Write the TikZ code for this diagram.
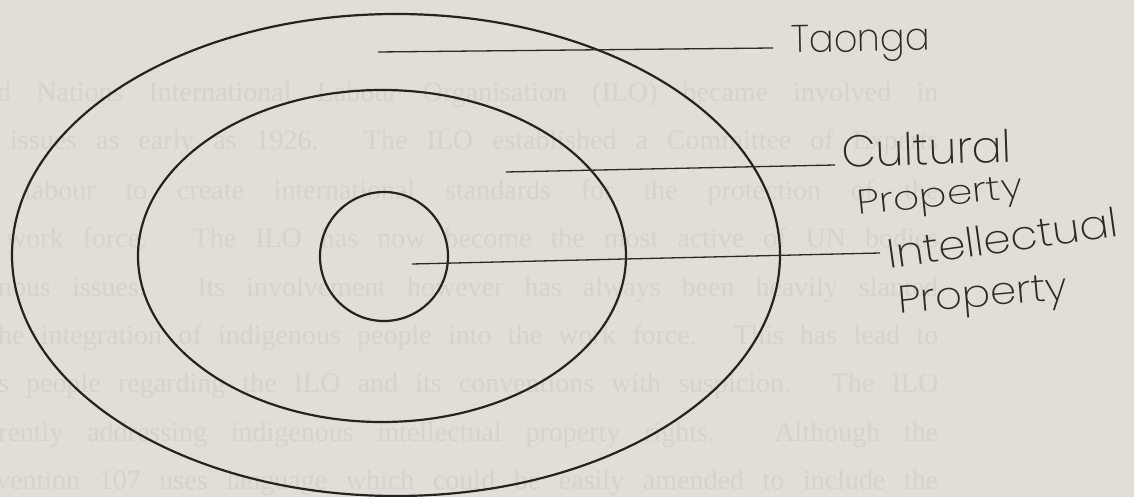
\documentclass[tikz,border=0pt]{standalone}
\usepackage{fontspec}
\setmainfont{Liberation Serif}
\newfontfamily\handfont{Poppins ExtraLight}
\usetikzlibrary{shapes.geometric}
\definecolor{paper}{RGB}{225,222,214}
\definecolor{ghost}{RGB}{214,211,203}
\definecolor{ink}{RGB}{40,34,30}
\definecolor{pencil}{RGB}{45,41,38}
\tikzset{
  ring/.style={ellipse, draw=ink, line width=2.2pt, inner sep=0pt, outer sep=0pt},
  lead/.style={draw=pencil, line width=1.3pt},
  hand/.style={anchor=base west, inner sep=0pt, text=pencil, font=\handfont},
  ghosttext/.style={anchor=base west, inner sep=0pt, text=ghost, font=\fontsize{28}{28}\selectfont}
}
\begin{document}
\begin{tikzpicture}[x=1pt,y=-1pt]
\fill[paper] (0,0) rectangle (1134,497);
\useasboundingbox (0,0) rectangle (1134,497);
\clip (0,0) rectangle (1134,497);
% faint text showing through the page
\node[ghosttext] (g1) at (-3,102) {\makebox[941pt][s]{d Nations International Labour Organisation (ILO) became involved in}};
\node[ghosttext] (g2) at (10,150) {\makebox[928pt][s]{issues as early as 1926. The ILO established a Committee of Experts}};
\node[ghosttext] (g3) at (24,199) {\makebox[914pt][s]{labour to create international standards for the protection of the}};
\node[ghosttext] (g4) at (6,247) {\makebox[932pt][s]{work force. The ILO has now become the most active of UN bodies}};
\node[ghosttext] (g5) at (-2,296) {\makebox[940pt][s]{nous issues. Its involvement however has always been heavily slanted}};
\node[ghosttext] (g6) at (-2,344) {\makebox[940pt][s]{he integration of indigenous people into the work force. This has lead to}};
\node[ghosttext] (g7) at (-2,392) {\makebox[940pt][s]{s people regarding the ILO and its conventions with suspicion. The ILO}};
\node[ghosttext] (g8) at (-2,441) {\makebox[940pt][s]{rently addressing indigenous intellectual property rights. Although the}};
\node[ghosttext] (g9) at (-4,489) {\makebox[942pt][s]{vention 107 uses language which could be easily amended to include the}};
% rings
\node[ring, minimum width=768pt, minimum height=482pt] (outer) at (396,255) {};
\node[ring, minimum width=488pt, minimum height=332pt] (middle) at (382,256) {};
\node[ring, minimum width=128pt, minimum height=129pt] (inner) at (384,256.5) {};
% labels
\node[hand, rotate=1] (taonga) at (791,53) {\resizebox{139pt}{27pt}{Taonga}};
\node[hand, rotate=2] (cultural) at (842,168) {\resizebox{170pt}{33pt}{Cultural}};
\node[hand, rotate=6] (property1) at (858,215) {\resizebox{166pt}{24pt}{Property}};
\node[hand, rotate=8] (intellectual) at (889,269) {\resizebox{233pt}{30pt}{Intellectual}};
\node[hand, rotate=5] (property2) at (899,314) {\resizebox{170pt}{27pt}{Property}};
% leader lines
\coordinate (ta1) at (378,52);  \coordinate (ta2) at (773,48);
\coordinate (cu1) at (506,172); \coordinate (cu2) at (835,165);
\coordinate (in1) at (412,264); \coordinate (in2) at (880,253);
\draw[lead] (ta1) -- (ta2);
\draw[lead] (cu1) -- (cu2);
\draw[lead] (in1) -- (in2);
\end{tikzpicture}
\end{document}
